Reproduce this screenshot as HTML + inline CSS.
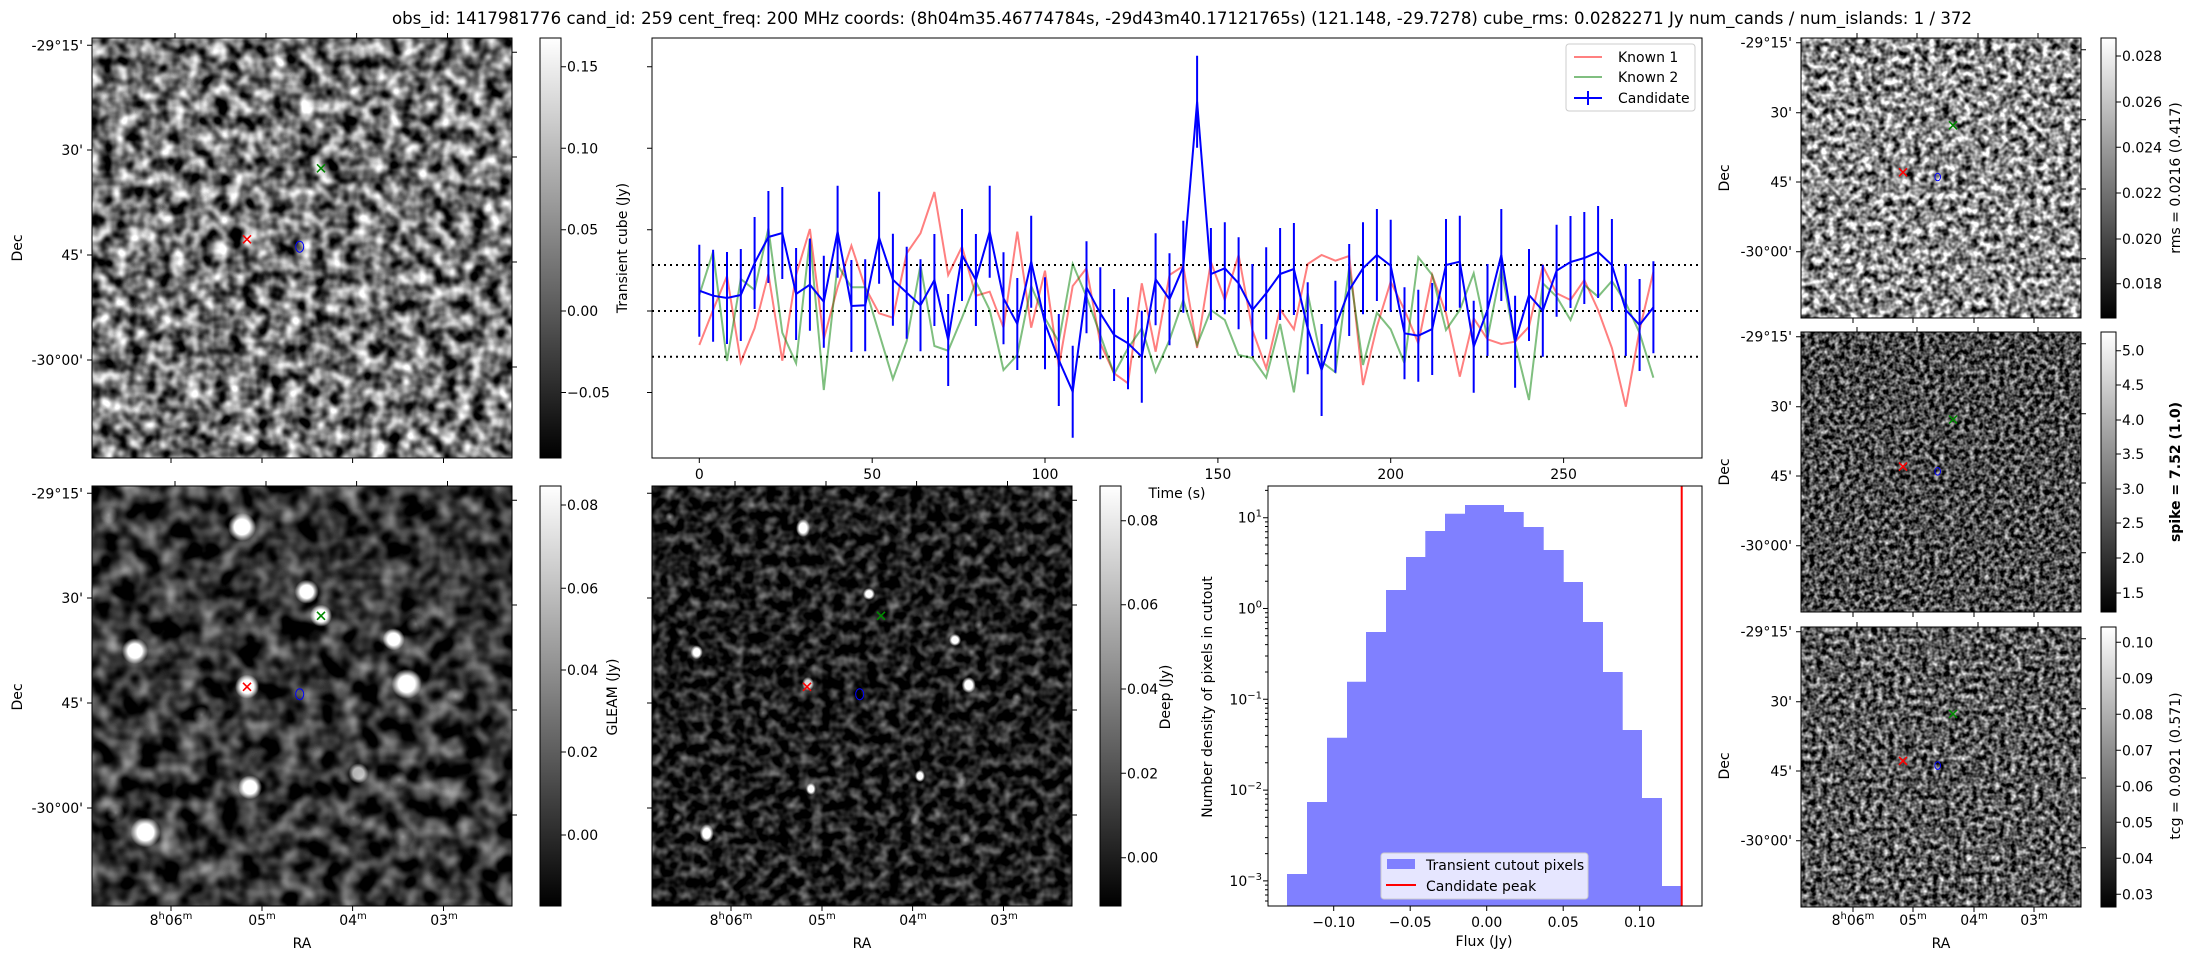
<!DOCTYPE html>
<html><head><meta charset="utf-8"><style>
html,body{margin:0;padding:0;background:#fff;}
svg{display:block;font-family:"DejaVu Sans","Liberation Sans",sans-serif;}
.t{font-size:14px;fill:#000;}
</style></head><body>
<svg width="2193" height="960" viewBox="0 0 2193 960" xmlns="http://www.w3.org/2000/svg">
<defs>
<filter id="nTL" x="0" y="0" width="100%" height="100%" filterUnits="objectBoundingBox" color-interpolation-filters="sRGB">
<feTurbulence type="fractalNoise" baseFrequency="0.07" numOctaves="2" seed="3"/>
<feColorMatrix type="matrix" values="1.9 0 0 0 -0.5  1.9 0 0 0 -0.5  1.9 0 0 0 -0.5  0 0 0 0 1"/>
</filter>
<filter id="nBL" x="0" y="0" width="100%" height="100%" filterUnits="objectBoundingBox" color-interpolation-filters="sRGB">
<feTurbulence type="fractalNoise" baseFrequency="0.05" numOctaves="2" seed="7"/>
<feColorMatrix type="matrix" values="1.2 0 0 0 -0.4  1.2 0 0 0 -0.4  1.2 0 0 0 -0.4  0 0 0 0 1"/>
</filter>
<filter id="nBM" x="0" y="0" width="100%" height="100%" filterUnits="objectBoundingBox" color-interpolation-filters="sRGB">
<feTurbulence type="fractalNoise" baseFrequency="0.09" numOctaves="2" seed="11"/>
<feColorMatrix type="matrix" values="1.0 0 0 0 -0.38  1.0 0 0 0 -0.38  1.0 0 0 0 -0.38  0 0 0 0 1"/>
</filter>
<filter id="nR1" x="0" y="0" width="100%" height="100%" filterUnits="objectBoundingBox" color-interpolation-filters="sRGB">
<feTurbulence type="fractalNoise" baseFrequency="0.14" numOctaves="2" seed="5"/>
<feColorMatrix type="matrix" values="2.0 0 0 0 -0.45  2.0 0 0 0 -0.45  2.0 0 0 0 -0.45  0 0 0 0 1"/>
</filter>
<filter id="nR2" x="0" y="0" width="100%" height="100%" filterUnits="objectBoundingBox" color-interpolation-filters="sRGB">
<feTurbulence type="fractalNoise" baseFrequency="0.2" numOctaves="2" seed="9"/>
<feColorMatrix type="matrix" values="1.6 0 0 0 -0.5  1.6 0 0 0 -0.5  1.6 0 0 0 -0.5  0 0 0 0 1"/>
</filter>
<filter id="nR3" x="0" y="0" width="100%" height="100%" filterUnits="objectBoundingBox" color-interpolation-filters="sRGB">
<feTurbulence type="fractalNoise" baseFrequency="0.18" numOctaves="2" seed="13"/>
<feColorMatrix type="matrix" values="1.7 0 0 0 -0.5  1.7 0 0 0 -0.5  1.7 0 0 0 -0.5  0 0 0 0 1"/>
</filter>
<linearGradient id="cb" x1="0" y1="1" x2="0" y2="0"><stop offset="0" stop-color="#000"/><stop offset="1" stop-color="#fff"/></linearGradient>
<radialGradient id="src"><stop offset="0" stop-color="#fff"/><stop offset="0.55" stop-color="#fff"/><stop offset="1" stop-color="#fff" stop-opacity="0"/></radialGradient>
<radialGradient id="dim"><stop offset="0" stop-color="#fff" stop-opacity="0.45"/><stop offset="1" stop-color="#fff" stop-opacity="0"/></radialGradient>
<clipPath id="cBL"><rect x="92" y="486" width="420" height="420"/></clipPath>
<clipPath id="cBM"><rect x="652" y="486" width="420" height="420"/></clipPath>
<clipPath id="cTS"><rect x="652" y="38" width="1050" height="420"/></clipPath>
</defs>

<text x="1182" y="24" text-anchor="middle" font-size="17" textLength="1580" lengthAdjust="spacingAndGlyphs">obs_id: 1417981776 cand_id: 259 cent_freq: 200 MHz coords: (8h04m35.46774784s, -29d43m40.17121765s) (121.148, -29.7278) cube_rms: 0.0282271 Jy num_cands / num_islands: 1 / 372</text>

<rect x="92" y="38" width="420" height="420" filter="url(#nTL)"/>
<rect x="92" y="486" width="420" height="420" filter="url(#nBL)"/>
<rect x="652" y="486" width="420" height="420" filter="url(#nBM)"/>
<rect x="1801" y="38" width="280" height="280" filter="url(#nR1)"/>
<rect x="1801" y="332" width="280" height="280" filter="url(#nR2)"/>
<rect x="1801" y="627" width="280" height="280" filter="url(#nR3)"/>

<g clip-path="url(#cBL)">
<circle cx="242" cy="527" r="14" fill="url(#src)"/>
<circle cx="306.7" cy="591.7" r="12" fill="url(#src)"/>
<circle cx="321" cy="615.7" r="11" fill="url(#src)"/>
<circle cx="393.7" cy="639.3" r="11" fill="url(#src)"/>
<circle cx="415.8" cy="624" r="10" fill="url(#dim)"/>
<circle cx="135" cy="651" r="13" fill="url(#src)"/>
<circle cx="247" cy="686.7" r="12" fill="url(#src)"/>
<circle cx="406.7" cy="684" r="15" fill="url(#src)"/>
<circle cx="455.7" cy="696" r="9" fill="url(#dim)"/>
<circle cx="201.6" cy="715" r="9" fill="url(#dim)"/>
<circle cx="358.5" cy="773.3" r="10" fill="url(#src)" opacity="0.7"/>
<circle cx="399" cy="780" r="9" fill="url(#dim)"/>
<circle cx="250" cy="787.3" r="12" fill="url(#src)"/>
<circle cx="353.7" cy="818.3" r="9" fill="url(#dim)"/>
<circle cx="115.8" cy="812.7" r="9" fill="url(#dim)"/>
<circle cx="145.5" cy="832.3" r="15" fill="url(#src)"/>
<circle cx="403" cy="836.7" r="10" fill="url(#dim)"/>
<circle cx="108.7" cy="515" r="9" fill="url(#dim)"/>
</g>
<g clip-path="url(#cBM)">
<ellipse cx="803" cy="528" rx="7" ry="9" fill="url(#src)"/>
<ellipse cx="869" cy="594" rx="6" ry="6" fill="url(#src)"/>
<ellipse cx="955" cy="640" rx="6" ry="6" fill="url(#src)"/>
<ellipse cx="979" cy="625" rx="5" ry="5" fill="url(#dim)"/>
<ellipse cx="696.7" cy="652.3" rx="6" ry="7" fill="url(#src)"/>
<ellipse cx="808" cy="684" rx="6" ry="7" fill="url(#src)" opacity="0.8"/>
<ellipse cx="968.7" cy="685" rx="7" ry="8" fill="url(#src)"/>
<ellipse cx="1017" cy="697" rx="5" ry="5" fill="url(#dim)"/>
<ellipse cx="763" cy="713" rx="5" ry="6" fill="url(#dim)"/>
<ellipse cx="920" cy="776" rx="5" ry="6" fill="url(#src)"/>
<ellipse cx="962" cy="780" rx="5" ry="5" fill="url(#dim)"/>
<ellipse cx="811" cy="789" rx="5" ry="6" fill="url(#src)"/>
<ellipse cx="915" cy="819" rx="5" ry="6" fill="url(#dim)"/>
<ellipse cx="678" cy="817" rx="5" ry="5" fill="url(#dim)"/>
<ellipse cx="706.7" cy="833.3" rx="7" ry="9" fill="url(#src)"/>
<ellipse cx="965" cy="840" rx="6" ry="7" fill="url(#dim)"/>
<ellipse cx="670" cy="517" rx="5" ry="5" fill="url(#dim)"/>
</g>

<g fill="none" stroke="#000" stroke-width="1">
<rect x="92" y="38" width="420" height="420"/><rect x="92" y="486" width="420" height="420"/><rect x="652" y="486" width="420" height="420"/>
<rect x="1801" y="38" width="280" height="280"/><rect x="1801" y="332" width="280" height="280"/><rect x="1801" y="627" width="280" height="280"/>
</g>

<g fill="none" stroke-width="1.6">
<path stroke="#f00" d="M243 235.3l8 8m-8 0l8 -8M243 682.8l8 8m-8 0l8 -8M803 682.8l8 8m-8 0l8 -8M1899 168.3l8 8m-8 0l8 -8M1899 462.6l8 8m-8 0l8 -8M1899 756.9l8 8m-8 0l8 -8"/>
<path stroke="#080" d="M317 164.3l8 8m-8 0l8 -8M317 611.8l8 8m-8 0l8 -8M877 611.8l8 8m-8 0l8 -8M1949 121.3l8 8m-8 0l8 -8M1949 415.6l8 8m-8 0l8 -8M1949 709.9l8 8m-8 0l8 -8"/>
</g>
<g fill="none" stroke="#00f" stroke-width="1">
<ellipse cx="299.7" cy="246.7" rx="4" ry="5.5"/><ellipse cx="299.7" cy="694.2" rx="4" ry="5.5"/><ellipse cx="859.7" cy="694.2" rx="4" ry="5.5"/>
<ellipse cx="1937.7" cy="177" rx="2.8" ry="3.8"/><ellipse cx="1937.7" cy="471.3" rx="2.8" ry="3.8"/><ellipse cx="1937.7" cy="765.6" rx="2.8" ry="3.8"/>
</g>

<rect x="540" y="38" width="21" height="420" fill="url(#cb)" stroke="#000"/>
<rect x="540" y="486" width="21" height="420" fill="url(#cb)" stroke="#000"/>
<rect x="1100" y="486" width="21" height="420" fill="url(#cb)" stroke="#000"/>
<rect x="2101" y="38" width="15" height="280" fill="url(#cb)" stroke="#000"/>
<rect x="2101" y="332" width="15" height="280" fill="url(#cb)" stroke="#000"/>
<rect x="2101" y="627" width="15" height="280" fill="url(#cb)" stroke="#000"/>

<path fill="none" stroke="#000" stroke-width="1" d="
M87 45.3h5M87 150h5M87 255h5M87 360h5M512 52.3h5M512 157h5M512 262h5M512 367h5
M171 458v5M262 458v5M352.6 458v5M443.5 458v5M175 33v5M266 33v5M356.6 33v5M447.5 33v5
M87 493.3h5M87 598h5M87 703h5M87 808h5M512 500.3h5M512 605h5M512 710h5M512 815h5
M171 906v5M262 906v5M352.6 906v5M443.5 906v5M175 481v5M266 481v5M356.6 481v5M447.5 481v5
M647 493.3h5M647 598h5M647 703h5M647 808h5M1072 500.3h5M1072 605h5M1072 710h5M1072 815h5
M731 906v5M822 906v5M912.6 906v5M1003.5 906v5M735 481v5M826 481v5M916.6 481v5M1007.5 481v5
M1796 42.7h5M1796 112.7h5M1796 182h5M1796 251.7h5M2081 49.7h5M2081 119.7h5M2081 189h5M2081 258.7h5
M1853 318v5M1913 318v5M1974 318v5M2034 318v5M1857 33v5M1917 33v5M1978 33v5M2038 33v5
M1796 336.7h5M1796 406.7h5M1796 476h5M1796 545.7h5M2081 343.7h5M2081 413.7h5M2081 483h5M2081 552.7h5
M1853 612v5M1913 612v5M1974 612v5M2034 612v5M1857 327v5M1917 327v5M1978 327v5M2038 327v5
M1796 631.7h5M1796 701.7h5M1796 771h5M1796 840.7h5M2081 638.7h5M2081 708.7h5M2081 778h5M2081 847.7h5
M1853 907v5M1913 907v5M1974 907v5M2034 907v5M1857 622v5M1917 622v5M1978 622v5M2038 622v5
M561 66.7h5M561 148.3h5M561 229.7h5M561 311h5M561 392.5h5
M561 505h5M561 588.3h5M561 670h5M561 752h5M561 835h5
M1121 520.7h5M1121 604.7h5M1121 689h5M1121 773.3h5M1121 857.7h5
M2116 56h5M2116 102h5M2116 147.3h5M2116 193h5M2116 239h5M2116 283.7h5
M2116 350.7h5M2116 385h5M2116 420h5M2116 454h5M2116 489h5M2116 523h5M2116 558h5M2116 593h5
M2116 642.3h5M2116 678.3h5M2116 714.3h5M2116 750.3h5M2116 786.3h5M2116 822.3h5M2116 858.3h5M2116 894.3h5
M647 66.7h5M647 148.3h5M647 229.7h5M647 311h5M647 392.5h5
M699.3 458v5M872.2 458v5M1045 458v5M1217.9 458v5M1390.7 458v5M1563.6 458v5
M1333.7 906v5M1410.2 906v5M1486.7 906v5M1563.2 906v5M1639.7 906v5
M1263 517.7h5M1263 608.5h5M1263 699.3h5M1263 790.1h5M1263 880.9h5
M1265 490.4h3
M1265 581.2h3M1265 565.2h3M1265 553.8h3M1265 545h3M1265 537.8h3M1265 531.8h3M1265 526.5h3M1265 521.9h3
M1265 672h3M1265 656h3M1265 644.6h3M1265 635.8h3M1265 628.6h3M1265 622.6h3M1265 617.3h3M1265 612.7h3
M1265 762.8h3M1265 746.8h3M1265 735.4h3M1265 726.6h3M1265 719.4h3M1265 713.4h3M1265 708.1h3M1265 703.5h3
M1265 853.6h3M1265 837.6h3M1265 826.2h3M1265 817.4h3M1265 810.2h3M1265 804.2h3M1265 798.9h3M1265 794.3h3
M1265 901h3M1265 895h3M1265 889.7h3M1265 885.1h3"/>

<g class="t">
<text x="567" y="71.7">0.15</text><text x="567" y="153.3">0.10</text><text x="567" y="234.7">0.05</text><text x="567" y="316">0.00</text><text x="567" y="397.5">−0.05</text>
<text x="567" y="510">0.08</text><text x="567" y="593.3">0.06</text><text x="567" y="675">0.04</text><text x="567" y="757">0.02</text><text x="567" y="840">0.00</text>
<text x="1127" y="525.7">0.08</text><text x="1127" y="609.7">0.06</text><text x="1127" y="694">0.04</text><text x="1127" y="778.3">0.02</text><text x="1127" y="862.7">0.00</text>
<text x="2122" y="61">0.028</text><text x="2122" y="107">0.026</text><text x="2122" y="152.3">0.024</text><text x="2122" y="198">0.022</text><text x="2122" y="244">0.020</text><text x="2122" y="288.7">0.018</text>
<text x="2122" y="355.7">5.0</text><text x="2122" y="390">4.5</text><text x="2122" y="425">4.0</text><text x="2122" y="459">3.5</text><text x="2122" y="494">3.0</text><text x="2122" y="528">2.5</text><text x="2122" y="563">2.0</text><text x="2122" y="598">1.5</text>
<text x="2122" y="647.3">0.10</text><text x="2122" y="683.3">0.09</text><text x="2122" y="719.3">0.08</text><text x="2122" y="755.3">0.07</text><text x="2122" y="791.3">0.06</text><text x="2122" y="827.3">0.05</text><text x="2122" y="863.3">0.04</text><text x="2122" y="899.3">0.03</text>
<text transform="translate(617,697) rotate(-90)" text-anchor="middle">GLEAM (Jy)</text>
<text transform="translate(1170,697) rotate(-90)" text-anchor="middle">Deep (Jy)</text>
<text transform="translate(2180,178) rotate(-90)" text-anchor="middle">rms = 0.0216 (0.417)</text>
<text transform="translate(2180,472) rotate(-90)" text-anchor="middle" font-weight="bold">spike = 7.52 (1.0)</text>
<text transform="translate(2180,766) rotate(-90)" text-anchor="middle">tcg = 0.0921 (0.571)</text>
<g text-anchor="end">
<text x="83" y="50.5">-29°15'</text><text x="83" y="155">30'</text><text x="83" y="260">45'</text><text x="83" y="365">-30°00'</text>
<text x="83" y="498.3">-29°15'</text><text x="83" y="603">30'</text><text x="83" y="708">45'</text><text x="83" y="813">-30°00'</text>
<text x="1792" y="47.7">-29°15'</text><text x="1792" y="117.7">30'</text><text x="1792" y="187">45'</text><text x="1792" y="256.7">-30°00'</text>
<text x="1792" y="341.7">-29°15'</text><text x="1792" y="411.7">30'</text><text x="1792" y="481">45'</text><text x="1792" y="550.7">-30°00'</text>
<text x="1792" y="636.7">-29°15'</text><text x="1792" y="706.7">30'</text><text x="1792" y="776">45'</text><text x="1792" y="845.7">-30°00'</text>
</g>
<text transform="translate(22,248) rotate(-90)" text-anchor="middle">Dec</text>
<text transform="translate(22,697) rotate(-90)" text-anchor="middle">Dec</text>
<text transform="translate(1729,178) rotate(-90)" text-anchor="middle">Dec</text>
<text transform="translate(1729,472) rotate(-90)" text-anchor="middle">Dec</text>
<text transform="translate(1729,766) rotate(-90)" text-anchor="middle">Dec</text>
<g text-anchor="middle">
<text x="171" y="925">8<tspan font-size="10" dy="-6">h</tspan><tspan dy="6">06</tspan><tspan font-size="10" dy="-6">m</tspan></text>
<text x="262" y="925">05<tspan font-size="10" dy="-6">m</tspan></text>
<text x="353" y="925">04<tspan font-size="10" dy="-6">m</tspan></text>
<text x="444" y="925">03<tspan font-size="10" dy="-6">m</tspan></text>
<text x="731" y="925">8<tspan font-size="10" dy="-6">h</tspan><tspan dy="6">06</tspan><tspan font-size="10" dy="-6">m</tspan></text>
<text x="822" y="925">05<tspan font-size="10" dy="-6">m</tspan></text>
<text x="913" y="925">04<tspan font-size="10" dy="-6">m</tspan></text>
<text x="1004" y="925">03<tspan font-size="10" dy="-6">m</tspan></text>
<text x="1853" y="925">8<tspan font-size="10" dy="-6">h</tspan><tspan dy="6">06</tspan><tspan font-size="10" dy="-6">m</tspan></text>
<text x="1913" y="925">05<tspan font-size="10" dy="-6">m</tspan></text>
<text x="1974" y="925">04<tspan font-size="10" dy="-6">m</tspan></text>
<text x="2034" y="925">03<tspan font-size="10" dy="-6">m</tspan></text>
<text x="302" y="948">RA</text><text x="862" y="948">RA</text><text x="1941" y="948">RA</text>
<text x="699.3" y="479">0</text><text x="872.2" y="479">50</text><text x="1045" y="479">100</text><text x="1217.9" y="479">150</text><text x="1390.7" y="479">200</text><text x="1563.6" y="479">250</text>
<text x="1177" y="498">Time (s)</text>
<text x="1333.7" y="927">−0.10</text><text x="1410.2" y="927">−0.05</text><text x="1486.7" y="927">0.00</text><text x="1563.2" y="927">0.05</text><text x="1639.7" y="927">0.10</text>
<text x="1484" y="946">Flux (Jy)</text>
</g>
<text transform="translate(627,248) rotate(-90)" text-anchor="middle">Transient cube (Jy)</text>
<text transform="translate(1212,697) rotate(-90)" text-anchor="middle">Number density of pixels in cutout</text>
<g text-anchor="end">
<text x="1262" y="522.7">10<tspan font-size="10" dy="-6">1</tspan></text>
<text x="1262" y="613.5">10<tspan font-size="10" dy="-6">0</tspan></text>
<text x="1262" y="704.3">10<tspan font-size="10" dy="-6">−1</tspan></text>
<text x="1262" y="795.1">10<tspan font-size="10" dy="-6">−2</tspan></text>
<text x="1262" y="885.9">10<tspan font-size="10" dy="-6">−3</tspan></text>
</g>
</g>

<g clip-path="url(#cTS)">
<g stroke="#000" stroke-width="2" stroke-dasharray="2,4">
<line x1="652" y1="265" x2="1702" y2="265"/><line x1="652" y1="311" x2="1702" y2="311"/><line x1="652" y1="356.7" x2="1702" y2="356.7"/>
</g>
<polyline fill="none" stroke="#ff0000" stroke-opacity="0.5" stroke-width="2" points="699.3,345 713.1,310 727.0,276 740.8,362.3 754.6,328.3 768.4,274 782.3,360.7 796.1,275 809.9,229 823.8,339.3 837.6,287.3 851.4,245.7 865.2,287.3 879.1,313.3 892.9,317.7 906.7,253.3 920.5,233.3 934.4,192 948.2,275 962.0,246.7 975.9,295.7 989.7,291.7 1003.5,327.7 1017.3,231.7 1031.2,327.7 1045.0,270.7 1058.8,366.7 1072.7,286 1086.5,268.3 1100.3,343.3 1114.1,373.3 1128.0,383.3 1141.8,283.3 1155.6,351.7 1169.5,275 1183.3,266 1197.1,348 1210.9,262 1224.8,300 1238.6,255 1252.4,330 1266.2,368.3 1280.1,309.3 1293.9,329.3 1307.7,264 1321.6,255 1335.4,260.7 1349.2,256 1363.0,385 1376.9,326.7 1390.7,281.7 1404.5,310 1418.3,343.3 1432.2,275 1446.0,313.3 1459.8,376.7 1473.7,318.3 1487.5,339.3 1501.3,344 1515.1,341.7 1529.0,326.7 1542.8,266 1556.6,293.3 1570.5,300 1584.3,280 1598.1,310 1611.9,348 1625.8,406.7 1639.6,330 1653.4,271.7"/>
<polyline fill="none" stroke="#008000" stroke-opacity="0.5" stroke-width="2" points="699.3,295 713.1,251.7 727.0,361 740.8,279 754.6,290 768.4,228.3 782.3,332.7 796.1,363.3 809.9,238.3 823.8,390 837.6,265 851.4,287.3 865.2,287.3 879.1,333.3 892.9,379 906.7,341 920.5,265 934.4,346 948.2,350.7 962.0,317.7 975.9,281.7 989.7,310 1003.5,370 1017.3,355 1031.2,286 1045.0,318.3 1058.8,341.7 1072.7,264 1086.5,296.7 1100.3,335 1114.1,374 1128.0,348.3 1141.8,328.3 1155.6,371.7 1169.5,340 1183.3,300 1197.1,345 1210.9,310 1224.8,320 1238.6,355 1252.4,358 1266.2,377.7 1280.1,324 1293.9,392.3 1307.7,293.3 1321.6,361.7 1335.4,372.3 1349.2,267.3 1363.0,365 1376.9,312.7 1390.7,329.3 1404.5,363.3 1418.3,257.3 1432.2,275 1446.0,330 1459.8,310 1473.7,273.3 1487.5,338.3 1501.3,268.3 1515.1,343.3 1529.0,400 1542.8,283.3 1556.6,296.7 1570.5,320 1584.3,285 1598.1,296.7 1611.9,281 1625.8,303 1639.6,333 1653.4,377.7"/>
<path fill="none" stroke="#00f" stroke-width="2" d="M699.3 244.7v92M713.1 249.7v92M727.0 252v92M740.8 249v92M754.6 217v92M768.4 191v92M782.3 187v92M796.1 248v92M809.9 238.7v92M823.8 255.7v92M837.6 185.7v92M851.4 260v92M865.2 259.3v92M879.1 191.7v92M892.9 233.7v92M906.7 246.7v92M920.5 259.3v92M934.4 234v92M948.2 294v92M962.0 209v92M975.9 234v92M989.7 185.7v92M1003.5 252.3v92M1017.3 278v92M1031.2 215.7v92M1045.0 277.3v92M1058.8 314v92M1072.7 345.7v92M1086.5 241.3v92M1100.3 267.3v92M1114.1 289v92M1128.0 297.3v92M1141.8 310.7v92M1155.6 233.3v92M1169.5 253.3v92M1183.3 220.7v92M1197.1 55.7v92M1210.9 228v92M1224.8 222.3v92M1238.6 237.3v92M1252.4 264v92M1266.2 247.3v92M1280.1 228v92M1293.9 223v92M1307.7 282.3v92M1321.6 324v92M1335.4 280.7v92M1349.2 244v92M1363.0 222.3v92M1376.9 209v92M1390.7 219.7v92M1404.5 287.3v92M1418.3 289.7v92M1432.2 283v92M1446.0 219v92M1459.8 215.7v92M1473.7 300.7v92M1487.5 264v92M1501.3 209v92M1515.1 295.7v92M1529.0 249v92M1542.8 264.7v92M1556.6 224.7v92M1570.5 216v92M1584.3 212v92M1598.1 206v92M1611.9 219v92M1625.8 264v92M1639.6 279v92M1653.4 261.3v92"/>
<polyline fill="none" stroke="#00f" stroke-width="2" points="699.3,290.7 713.1,295.7 727.0,298 740.8,295 754.6,263 768.4,237 782.3,233 796.1,294 809.9,284.7 823.8,301.7 837.6,231.7 851.4,306 865.2,305.3 879.1,237.7 892.9,279.7 906.7,292.7 920.5,305.3 934.4,280 948.2,340 962.0,255 975.9,280 989.7,231.7 1003.5,298.3 1017.3,324 1031.2,261.7 1045.0,323.3 1058.8,360 1072.7,391.7 1086.5,287.3 1100.3,313.3 1114.1,335 1128.0,343.3 1141.8,356.7 1155.6,279.3 1169.5,299.3 1183.3,266.7 1197.1,101.7 1210.9,274 1224.8,268.3 1238.6,283.3 1252.4,310 1266.2,293.3 1280.1,274 1293.9,269 1307.7,328.3 1321.6,370 1335.4,326.7 1349.2,290 1363.0,268.3 1376.9,255 1390.7,265.7 1404.5,333.3 1418.3,335.7 1432.2,329 1446.0,265 1459.8,261.7 1473.7,346.7 1487.5,310 1501.3,255 1515.1,341.7 1529.0,295 1542.8,310.7 1556.6,270.7 1570.5,262 1584.3,258 1598.1,252 1611.9,265 1625.8,310 1639.6,325 1653.4,307.3"/>
</g>
<rect x="652" y="38" width="1050" height="420" fill="none" stroke="#000"/>
<rect x="1566" y="44" width="129" height="67" rx="3" fill="#fff" fill-opacity="0.8" stroke="#ccc"/>
<line x1="1574" y1="57" x2="1602" y2="57" stroke="#ff8080" stroke-width="2"/>
<line x1="1574" y1="77" x2="1602" y2="77" stroke="#80bf80" stroke-width="2"/>
<line x1="1574" y1="98" x2="1602" y2="98" stroke="#00f" stroke-width="2"/>
<line x1="1588" y1="91" x2="1588" y2="105" stroke="#00f" stroke-width="2"/>
<g class="t"><text x="1618" y="62">Known 1</text><text x="1618" y="82">Known 2</text><text x="1618" y="103">Candidate</text></g>

<path fill="#8080ff" d="M1287 906V874H1307V802H1327V737.7H1347V681.7H1366V632H1386V590H1406V557H1425.3V531H1445V513.7H1465V505H1504V512H1523.7V527H1543.7V550H1563.7V582H1583V622H1603V672H1622.7V730H1642V798H1662V886H1681.7V906Z"/>
<line x1="1681.7" y1="486" x2="1681.7" y2="906" stroke="#f00" stroke-width="2"/>
<rect x="1268" y="486" width="434" height="420" fill="none" stroke="#000"/>
<rect x="1381" y="853" width="207" height="46" rx="3" fill="#fff" fill-opacity="0.8" stroke="#ccc"/>
<rect x="1387" y="859" width="28" height="10" fill="#8080ff"/>
<line x1="1386" y1="885" x2="1416" y2="885" stroke="#f00" stroke-width="2"/>
<g class="t"><text x="1426" y="870">Transient cutout pixels</text><text x="1426" y="891">Candidate peak</text></g>
</svg>
</body></html>
